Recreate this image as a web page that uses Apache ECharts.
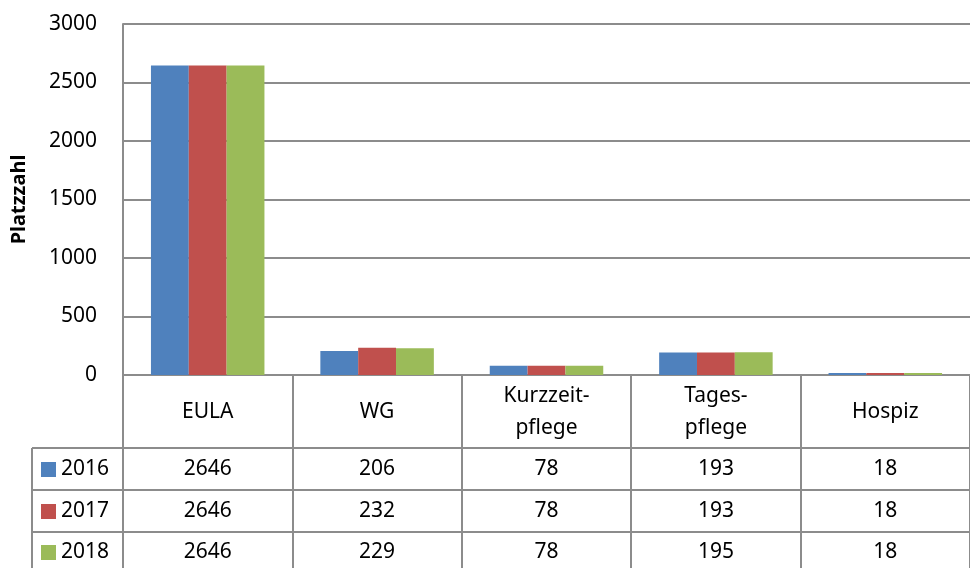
<!DOCTYPE html>
<html>
<head>
<meta charset="utf-8">
<script src="https://cdn.jsdelivr.net/npm/echarts@6/dist/echarts.min.js"></script>
<style>
    html, body { margin: 0; padding: 0; background: #fff; }
    #chart { width: 970px; height: 568px; }
</style>
</head>
<body>
<div id="chart"></div>
<script>
const categories = ['EULA', 'WG', 'Kurzzeit-\npflege', 'Tages-\npflege', 'Hospiz']
const years = ['2016', '2017', '2018']
const values2016 = [2646, 206, 78, 193, 18]
const values2017 = [2646, 232, 78, 193, 18]
const values2018 = [2646, 229, 78, 195, 18]
const yTicks = [0, 500, 1000, 1500, 2000, 2500, 3000]

const colors = ['#4F81BD', '#C0504D', '#9BBB59']
const lineColor = '#8C8C8C'
const font = 'Noto Sans'

const chart = echarts.init(document.getElementById('chart'))

const seriesValues = [values2016, values2017, values2018]

const option = {
    animation: false,
    grid: {
        left: 123,
        top: 24,
        width: 850,
        height: 351
    },
    xAxis: {
        type: 'category',
        data: categories,
        axisLine: { lineStyle: { color: lineColor, width: 2 } },
        axisTick: {
            show: true,
            length: 200,
            lineStyle: { color: lineColor, width: 2 }
        },
        axisLabel: {
            fontFamily: font,
            fontSize: 21,
            color: '#000',
            lineHeight: 32,
            margin: 37,
            verticalAlign: 'middle',
            interval: 0
        }
    },
    yAxis: {
        type: 'value',
        min: yTicks[0],
        max: yTicks[yTicks.length - 1],
        interval: 500,
        name: 'Platzzahl',
        nameLocation: 'middle',
        nameGap: 94,
        nameTextStyle: {
            fontFamily: font,
            fontSize: 20,
            fontWeight: 'bold',
            color: '#000'
        },
        axisLine: { show: true, lineStyle: { color: lineColor, width: 2 } },
        axisTick: { show: false },
        axisLabel: {
            fontFamily: font,
            fontSize: 21,
            color: '#000',
            margin: 26,
            formatter: v => String(v)
        },
        splitLine: { lineStyle: { color: lineColor, width: 2 } }
    },
    series: years.map((y, i) => ({
        name: y,
        type: 'bar',
        data: seriesValues[i],
        barGap: '0%',
        barCategoryGap: '33%',
        itemStyle: { color: colors[i] }
    }))
}

chart.setOption(option)

// data table under the axis
const rowLines = [448, 490, 532]
const rowCenters = [469, 511, 552]
const graphics = []

rowLines.forEach(y => {
    graphics.push({
        type: 'line',
        shape: { x1: 32, y1: y, x2: 970, y2: y },
        style: { stroke: lineColor, lineWidth: 2 }
    })
})
graphics.push({
    type: 'line',
    shape: { x1: 32, y1: 448, x2: 32, y2: 568 },
    style: { stroke: lineColor, lineWidth: 2 }
})

years.forEach((y, i) => {
    graphics.push({
        type: 'rect',
        shape: { x: 41, y: rowCenters[i] - 7, width: 15, height: 15 },
        style: { fill: colors[i] }
    })
    graphics.push({
        type: 'text',
        x: 61,
        y: rowCenters[i],
        style: {
            text: y,
            fontFamily: font,
            fontSize: 21,
            fill: '#000',
            verticalAlign: 'middle'
        }
    })
    seriesValues[i].forEach((v, j) => {
        const cx = chart.convertToPixel({ xAxisIndex: 0 }, j)
        graphics.push({
            type: 'text',
            x: cx,
            y: rowCenters[i],
            style: {
                text: String(v),
                fontFamily: font,
                fontSize: 21,
                fill: '#000',
                align: 'center',
                verticalAlign: 'middle'
            }
        })
    })
})

chart.setOption({ graphic: graphics })
</script>
</body>
</html>
